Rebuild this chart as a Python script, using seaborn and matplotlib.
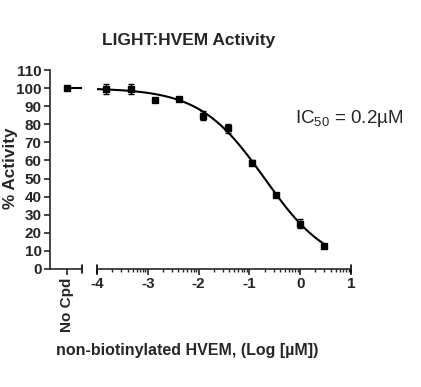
"""Curva dosis-respuesta LIGHT:HVEM"""

import numpy as np
import pandas as pd
import seaborn as sns
import matplotlib.pyplot as plt

# Datos

log_conc = [-3.816, -3.339, -2.862, -2.385, -1.908, -1.431, -0.954, -0.477, 0.0, 0.477]
actividad = [99.5, 99.5, 93.5, 93.8, 84.8, 77.8, 58.8, 41.0, 25.0, 12.5]
error = [2.8, 3.0, 1.0, 1.0, 2.5, 2.5, 1.5, 1.0, 2.5, 1.0]
no_cpd = 100.0

# parametros del ajuste (IC50 = 0.2 uM)
log_ic50 = -0.7
hill = 0.68
top, bottom = 100.0, 0.0

df = pd.DataFrame({"logx": log_conc, "act": actividad, "err": error})
curva_x = np.linspace(-4.0, 0.477, 200)
curva = pd.DataFrame({"logx": curva_x,
                      "act": bottom + (top - bottom) / (1 + 10 ** (hill * (curva_x - log_ic50)))})

sns.set_style("ticks")
plt.rcParams['font.family'] = ['Liberation Sans', 'DejaVu Sans']
plt.rcParams['mathtext.default'] = 'regular'
plt.rcParams['axes.unicode_minus'] = False

fig = plt.figure(figsize=(4.21, 3.87), dpi=100)
ax1 = fig.add_axes([50 / 421, 1 - 269 / 387, 32 / 421, 199 / 387])
ax2 = fig.add_axes([97 / 421, 1 - 269 / 387, 254 / 421, 199 / 387])

# segmento "No Cpd"
ax1.plot([0, 0.9], [no_cpd, no_cpd], color='black', lw=1.5)
ax1.plot([0], [no_cpd], marker='s', ms=5, color='black', clip_on=False)
ax1.set_xlim(-1, 0.9)
ax1.set_ylim(0, 110)
ax1.set_yticks(range(0, 111, 10))
ax1.set_xticks([0])
ax1.set_xticklabels(["No Cpd"], rotation=90, fontweight='bold', fontsize=11)
sns.despine(ax=ax1)
ax1.plot([0.9, 0.9], [-0.022, 0.022], color='black', lw=1.2,
         transform=ax1.get_xaxis_transform(), clip_on=False)

# segmento logaritmico
sns.lineplot(data=curva, x="logx", y="act", ax=ax2, color='black', lw=1.5)
ax2.errorbar(df["logx"], df["act"], yerr=df["err"], fmt='s', ms=5, color='black',
             capsize=2.5, elinewidth=1, clip_on=False)
ax2.set_xlim(-4, 1)
ax2.set_ylim(0, 110)
ax2.set_xticks(range(-4, 2))
minor = [d + np.log10(k) for d in range(-4, 1) for k in range(2, 10)]
ax2.set_xticks(minor, minor=True)
ax2.set_yticks([])
ax2.set_xlabel("")
ax2.set_ylabel("")
sns.despine(ax=ax2, left=True)
for xe in (-4, 1):
    ax2.plot([xe, xe], [-0.022, 0.022], color='black', lw=1.2,
             transform=ax2.get_xaxis_transform(), clip_on=False)

for ax in (ax1, ax2):
    for s in ax.spines.values():
        s.set_linewidth(1.2)
    ax.tick_params(which='major', length=4, width=1.2, pad=2, labelsize=11)
    ax.tick_params(which='minor', length=2.5, width=1)
    for lab in ax.get_xticklabels() + ax.get_yticklabels():
        lab.set_fontweight('bold')

ax2.text(-0.1, 83, "IC$_{50}$ = 0.2µM", fontsize=13.5, ha='left', va='center')

fig.text(189 / 421, 1 - 40 / 387, "LIGHT:HVEM Activity", fontsize=12.5,
         fontweight='bold', ha='center', va='center')
fig.text(11 / 421, 1 - 168 / 387, "% Activity", fontsize=12.3, fontweight='bold',
         rotation=90, ha='center', va='center')
fig.text(187 / 421, 1 - 350 / 387, "non-biotinylated HVEM, (Log [µM])", fontsize=11.5,
         fontweight='bold', ha='center', va='center')

plt.savefig('out.png', dpi=100)
